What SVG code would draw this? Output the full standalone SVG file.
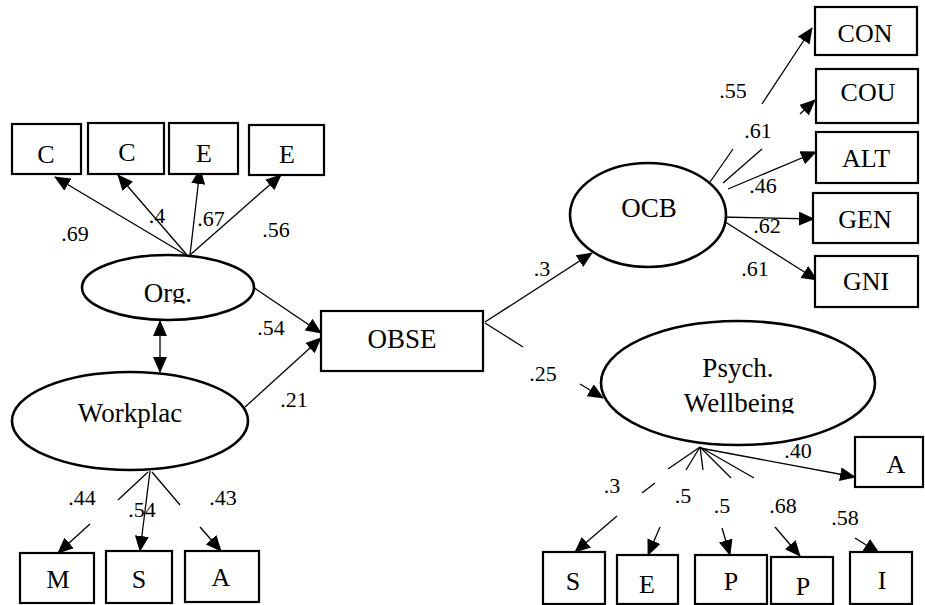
<svg xmlns="http://www.w3.org/2000/svg" width="925" height="605" viewBox="0 0 925 605">
<style>
text{font-family:"Liberation Serif","Times New Roman",Times,Tinos,"Nimbus Roman","Nimbus Roman No9 L",FreeSerif,"Noto Serif","DejaVu Serif",serif;fill:#000;text-anchor:middle}
.box{fill:#fff;stroke:#000;stroke-width:2.2}
.ell{fill:#fff;stroke:#000;stroke-width:2.6}
.lbl{font-size:26px}
.big{font-size:27px}
.coef{font-size:22px}
.ln{stroke:#000;stroke-width:1.3;fill:none}
.arr{marker-end:url(#ah)}
</style>
<defs>
<marker id="ah" markerUnits="userSpaceOnUse" markerWidth="16" markerHeight="14" viewBox="0 0 16 14" refX="15" refY="7" orient="auto-start-reverse">
<path d="M0,0 L16,7 L0,14 z" fill="#000"/>
</marker>
<clipPath id="clipOrg"><rect x="80" y="250" width="180" height="53.5"/></clipPath>
<clipPath id="clipPsy"><rect x="600" y="320" width="280" height="93.5"/></clipPath>
</defs>
<rect width="925" height="605" fill="#fff"/>

<g id="connectors">
<line class="ln arr" x1="186" y1="255" x2="55" y2="177"/>
<line class="ln arr" x1="187" y1="255" x2="118" y2="175"/>
<line class="ln arr" x1="190" y1="255" x2="200" y2="169"/>
<line class="ln arr" x1="190" y1="255" x2="281" y2="175"/>
<line class="ln" x1="160" y1="321" x2="160" y2="372" style="marker-start:url(#ah);marker-end:url(#ah)"/>
<line class="ln arr" x1="253" y1="287" x2="321" y2="333"/>
<line class="ln arr" x1="245" y1="407" x2="321" y2="338"/>
<line class="ln" x1="148" y1="472" x2="118" y2="500"/>
<line class="ln arr" x1="90" y1="524" x2="58" y2="553"/>
<line class="ln arr" x1="150" y1="471" x2="140" y2="551"/>
<line class="ln" x1="152" y1="472" x2="180" y2="505"/>
<line class="ln arr" x1="200" y1="527" x2="221" y2="551"/>
<line class="ln arr" x1="485" y1="322" x2="592" y2="253"/>
<line class="ln" x1="485" y1="323" x2="523" y2="347"/>
<line class="ln arr" x1="580" y1="384" x2="603" y2="398"/>
<line class="ln" x1="710" y1="182" x2="733" y2="149"/>
<line class="ln arr" x1="762" y1="104" x2="812" y2="28"/>
<line class="ln" x1="723" y1="183" x2="762" y2="149"/>
<line class="ln arr" x1="800" y1="114" x2="815" y2="100"/>
<line class="ln arr" x1="728" y1="189" x2="816" y2="152"/>
<line class="ln arr" x1="720" y1="217" x2="814" y2="219"/>
<line class="ln arr" x1="719" y1="218" x2="817" y2="280"/>
<line class="ln" x1="700" y1="447" x2="668" y2="469"/>
<line class="ln" x1="655" y1="483" x2="642" y2="493"/>
<line class="ln arr" x1="617" y1="516" x2="575" y2="552"/>
<line class="ln" x1="700" y1="447" x2="686" y2="470"/>
<line class="ln arr" x1="660" y1="527" x2="648" y2="555"/>
<line class="ln" x1="700" y1="447" x2="703" y2="470"/>
<line class="ln arr" x1="722" y1="528" x2="730" y2="555"/>
<line class="ln" x1="700" y1="447" x2="731" y2="478"/>
<line class="ln arr" x1="775" y1="527" x2="800" y2="556"/>
<line class="ln" x1="700" y1="447" x2="754" y2="478"/>
<line class="ln arr" x1="855" y1="538" x2="879" y2="553"/>
<line class="ln arr" x1="700" y1="448" x2="855" y2="477"/>
</g>

<g id="labels">
<text class="coef" x="75" y="241">.69</text>
<text class="coef" x="157" y="223">.4</text>
<text class="coef" x="211" y="226">.67</text>
<text class="coef" x="276" y="237">.56</text>
<text class="coef" x="271" y="335">.54</text>
<text class="coef" x="294" y="407">.21</text>
<text class="coef" x="82" y="505">.44</text>
<text class="coef" x="142" y="517">.54</text>
<text class="coef" x="223" y="505">.43</text>
<text class="coef" x="542" y="276">.3</text>
<text class="coef" x="543" y="381">.25</text>
<text class="coef" x="733" y="98">.55</text>
<text class="coef" x="758" y="138">.61</text>
<text class="coef" x="763" y="193">.46</text>
<text class="coef" x="767" y="233">.62</text>
<text class="coef" x="755" y="276">.61</text>
<text class="coef" x="798" y="458">.40</text>
<text class="coef" x="612" y="493">.3</text>
<text class="coef" x="683" y="503">.5</text>
<text class="coef" x="722" y="513">.5</text>
<text class="coef" x="783" y="513">.68</text>
<text class="coef" x="845" y="525">.58</text>
</g>

<g id="node-C1"><rect class="box" x="12" y="124" width="69" height="50"/><text class="lbl" x="46" y="163">C</text></g>
<g id="node-C2"><rect class="box" x="88" y="123" width="76" height="51"/><text class="lbl" x="127" y="161">C</text></g>
<g id="node-E1"><rect class="box" x="169" y="123" width="69" height="51"/><text class="lbl" x="204" y="162">E</text></g>
<g id="node-E2"><rect class="box" x="249" y="125" width="75" height="50"/><text class="lbl" x="287" y="163">E</text></g>
<g id="node-Org"><ellipse class="ell" cx="168" cy="287.5" rx="86" ry="32.5"/><text class="lbl big" x="168" y="302" clip-path="url(#clipOrg)">Org.</text></g>
<g id="node-Workplac"><ellipse class="ell" cx="130" cy="421" rx="118" ry="49"/><text class="lbl big" x="130" y="422">Workplac</text></g>
<g id="node-M"><rect class="box" x="20" y="553" width="74" height="50"/><text class="lbl" x="58" y="588">M</text></g>
<g id="node-S"><rect class="box" x="106" y="551" width="66" height="52"/><text class="lbl" x="139" y="588">S</text></g>
<g id="node-A"><rect class="box" x="185" y="551" width="74" height="51"/><text class="lbl" x="221" y="586">A</text></g>
<g id="node-OBSE"><rect class="box" x="321" y="311" width="162" height="60"/><text class="lbl big" x="402" y="348">OBSE</text></g>
<g id="node-OCB"><ellipse class="ell" cx="648" cy="215" rx="78" ry="52"/><text class="lbl big" x="649" y="217">OCB</text></g>
<g id="node-CON"><rect class="box" x="815" y="7" width="102" height="48"/><text class="lbl" x="865" y="42">CON</text></g>
<g id="node-COU"><rect class="box" x="816" y="69" width="102" height="54"/><text class="lbl" x="868" y="101">COU</text></g>
<g id="node-ALT"><rect class="box" x="816" y="132" width="102" height="51"/><text class="lbl" x="866" y="167">ALT</text></g>
<g id="node-GEN"><rect class="box" x="813" y="193" width="105" height="50"/><text class="lbl" x="865" y="228">GEN</text></g>
<g id="node-GNI"><rect class="box" x="815" y="256" width="103" height="51"/><text class="lbl" x="866" y="290">GNI</text></g>
<g id="node-Psych"><ellipse class="ell" cx="738" cy="383" rx="137" ry="62"/><g clip-path="url(#clipPsy)"><text class="lbl big" x="738" y="377">Psych.</text><text class="lbl big" x="739" y="412">Wellbeing</text></g></g>
<g id="node-A2"><rect class="box" x="855" y="437" width="68" height="50"/><text class="lbl" x="896" y="473">A</text></g>
<g id="node-S2"><rect class="box" x="543" y="552" width="62" height="52"/><text class="lbl" x="573" y="590">S</text></g>
<g id="node-E3"><rect class="box" x="617" y="555" width="61" height="49"/><text class="lbl" x="647" y="593">E</text></g>
<g id="node-P1"><rect class="box" x="695" y="555" width="72" height="49"/><text class="lbl" x="731" y="590">P</text></g>
<g id="node-P2"><rect class="box" x="771" y="557" width="62" height="47"/><text class="lbl" x="803" y="595">P</text></g>
<g id="node-I"><rect class="box" x="850" y="552" width="62" height="52"/><text class="lbl" x="882" y="589">I</text></g>
</svg>
